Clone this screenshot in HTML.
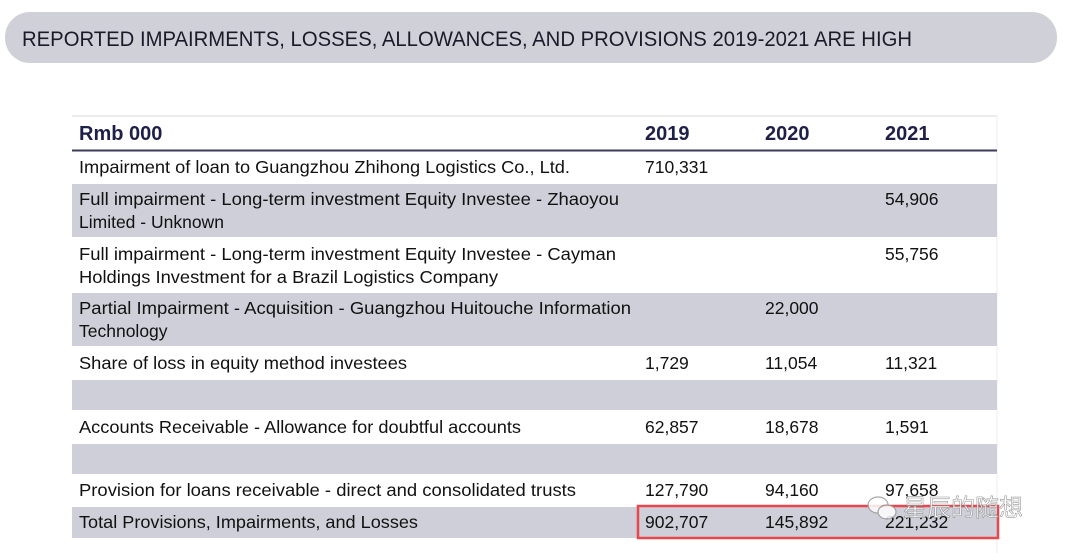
<!DOCTYPE html>
<html><head><meta charset="utf-8"><style>
html,body{margin:0;padding:0;background:#fff;width:1066px;height:553px;overflow:hidden}
text{font-family:"Liberation Sans","Noto Sans CJK SC",sans-serif}
</style></head><body>
<svg width="1066" height="553" xmlns="http://www.w3.org/2000/svg">
<rect x="5" y="12" width="1052" height="51" rx="25" fill="#d0d0d8"/>
<text x="22" y="46" font-size="21" fill="#1a1a2a" textLength="890" lengthAdjust="spacingAndGlyphs">REPORTED IMPAIRMENTS, LOSSES, ALLOWANCES, AND PROVISIONS 2019-2021 ARE HIGH</text>
<line x1="72" y1="116" x2="997" y2="116" stroke="#d8d8de" stroke-width="1"/>
<line x1="997" y1="116" x2="997" y2="553" stroke="#ececf0" stroke-width="1"/>
<g fill="#1e2048" font-weight="bold" font-size="20">
<text x="79" y="140">Rmb 000</text>
<text x="645" y="140">2019</text>
<text x="765" y="140">2020</text>
<text x="885" y="140">2021</text>
</g>
<line x1="72" y1="150.5" x2="997" y2="150.5" stroke="#3a3c5a" stroke-width="2"/>
<g fill="#cfcfd9">
<rect x="72" y="184" width="925" height="53"/>
<rect x="72" y="293" width="925" height="53"/>
<rect x="72" y="380" width="925" height="30"/>
<rect x="72" y="444" width="925" height="30"/>
<rect x="72" y="507" width="925" height="31"/>
</g>
<g fill="#111" font-size="17.5">
<text x="79" y="173" textLength="491" lengthAdjust="spacingAndGlyphs">Impairment of loan to Guangzhou Zhihong Logistics Co., Ltd.</text>
<text x="645" y="173">710,331</text>
<text x="79" y="205" textLength="540" lengthAdjust="spacingAndGlyphs">Full impairment - Long-term investment Equity Investee - Zhaoyou</text>
<text x="79" y="228">Limited - Unknown</text>
<text x="885" y="205">54,906</text>
<text x="79" y="260" textLength="537" lengthAdjust="spacingAndGlyphs">Full impairment - Long-term investment Equity Investee - Cayman</text>
<text x="79" y="283" textLength="419" lengthAdjust="spacingAndGlyphs">Holdings Investment for a Brazil Logistics Company</text>
<text x="885" y="260">55,756</text>
<text x="79" y="314" textLength="552" lengthAdjust="spacingAndGlyphs">Partial Impairment - Acquisition - Guangzhou Huitouche Information</text>
<text x="79" y="337">Technology</text>
<text x="765" y="314">22,000</text>
<text x="79" y="369" textLength="328" lengthAdjust="spacingAndGlyphs">Share of loss in equity method investees</text>
<text x="645" y="369">1,729</text><text x="765" y="369">11,054</text><text x="885" y="369">11,321</text>
<text x="79" y="433" textLength="442" lengthAdjust="spacingAndGlyphs">Accounts Receivable - Allowance for doubtful accounts</text>
<text x="645" y="433">62,857</text><text x="765" y="433">18,678</text><text x="885" y="433">1,591</text>
<text x="79" y="496" textLength="497" lengthAdjust="spacingAndGlyphs">Provision for loans receivable - direct and consolidated trusts</text>
<text x="645" y="496">127,790</text><text x="765" y="496">94,160</text><text x="885" y="496">97,658</text>
<text x="79" y="528" textLength="339" lengthAdjust="spacingAndGlyphs">Total Provisions, Impairments, and Losses</text>
<text x="645" y="528">902,707</text><text x="765" y="528">145,892</text><text x="885" y="528">221,232</text>
</g>
<rect x="638" y="506" width="360" height="32" fill="none" stroke="#e8474c" stroke-width="2.5"/>
<g opacity="0.85">
<ellipse cx="878" cy="505" rx="10" ry="8" fill="#fff" stroke="#999" stroke-width="1.2"/>
<ellipse cx="887" cy="512" rx="9" ry="7" fill="#fff" stroke="#999" stroke-width="1.2"/>
<text x="903" y="516" font-size="24" fill="#fff" stroke="#888" stroke-width="0.6">星辰的随想</text>
</g>
</svg>
</body></html>
